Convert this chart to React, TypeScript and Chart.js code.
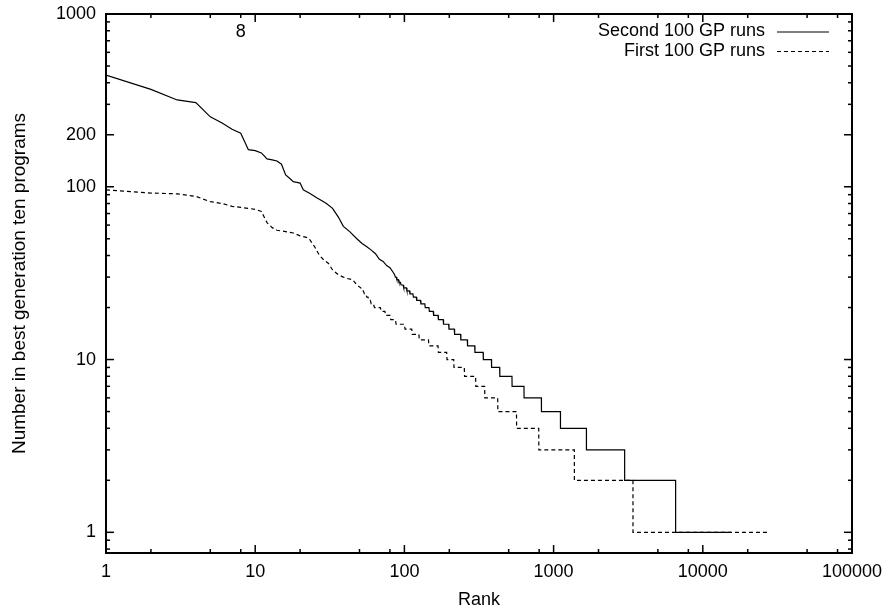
import React, { useEffect, useRef } from 'react';
import { Chart, registerables } from 'chart.js';

Chart.register(...registerables);

// ---- Data ----
// "Second 100 GP runs": individual ranks at the head of the curve
const secondHeadRanks = [1, 2, 3, 4, 5, 6, 7, 8, 9, 10, 11, 12, 13, 14, 15, 16, 17, 18, 19, 20, 21, 22, 23, 24, 26, 28, 30, 33, 36, 39, 43, 48, 52, 56, 60, 64, 68, 72, 76, 80, 84, 86];
const secondHeadCounts = [443, 366, 318, 307, 254, 234, 215, 204, 164, 162, 157, 145, 143, 141, 135, 117, 112, 107, 106, 105, 96, 94, 92, 90, 86, 83, 80, 75, 67, 59, 55, 50, 47, 45, 43, 41, 38, 37, 35, 34, 32, 31];
// then integer steps: level and the last rank holding that level
const secondStepLevels = [30, 29, 28, 27, 26, 25, 24, 23, 22, 21, 20, 19, 18, 17, 16, 15, 14, 13, 12, 11, 10, 9, 8, 7, 6, 5, 4, 3, 2, 1];
const secondStepLastRanks = [88, 91, 94, 98, 103, 108, 114, 120, 128, 137, 146, 156, 168, 182, 198, 216, 238, 264, 296, 337, 383, 435, 526, 633, 828, 1111, 1659, 2993, 6574, 15520];

// "First 100 GP runs"
const firstHeadRanks = [1, 2, 3, 4, 5, 6, 7, 8, 9, 10, 11, 12, 13, 14, 16, 18, 20, 22, 23, 25, 27, 29, 31, 33, 36, 39, 41, 45, 48, 51];
const firstHeadCounts = [96, 92, 91, 88, 82, 80, 77, 76, 75, 74, 72, 62, 58, 56, 55, 54, 52, 51, 50, 45, 40, 37.5, 36, 33, 31, 30, 29.5, 29, 27, 26];
const firstStepLevels = [25, 24, 23, 22, 21, 20, 19, 18, 17, 16, 15, 14, 13, 12, 11, 10, 9, 8, 7, 6, 5, 4, 3, 2, 1];
const firstStepLastRanks = [53, 55, 57, 59, 62, 69, 74, 80, 87, 100, 112, 125, 145, 168, 192, 214, 252, 300, 345, 422, 564, 795, 1377, 3404, 28000];

const seriesLabels = ['Second 100 GP runs', 'First 100 GP runs'];
const xTickValues = [1, 10, 100, 1000, 10000, 100000];
const yTickValues = [1, 10, 100, 200, 1000];
const xMinorFactors = [2, 5, 8];
const yMinorFactors = [2, 3, 4, 5, 6, 7, 8, 9];
const xTitle = 'Rank';
const yTitle = 'Number in best generation ten programs';
const plotLabel = '8';
const plotLabelX = 8;
const plotLabelY = 790;

function buildPoints(headRanks: number[], headCounts: number[], levels: number[], lastRanks: number[]) {
  const pts: { x: number; y: number }[] = headRanks.map((r, i) => ({ x: r, y: headCounts[i] }));
  let prev = headRanks[headRanks.length - 1];
  levels.forEach((lv, i) => {
    const start = prev + 1;
    const end = lastRanks[i];
    pts.push({ x: start, y: lv });
    if (end > start) pts.push({ x: end, y: lv });
    prev = end;
  });
  return pts;
}

const FONT = 'Liberation Sans, Arial, sans-serif';

const framePlugin = {
  id: 'gnuframe',
  afterDatasetsDraw(chart: any) {
    const { ctx, chartArea } = chart;
    const { left, right, top, bottom } = chartArea;
    const xs = chart.scales.x;
    const ys = chart.scales.y;
    const seg = (x1: number, y1: number, x2: number, y2: number) => {
      ctx.beginPath();
      ctx.moveTo(x1, y1);
      ctx.lineTo(x2, y2);
      ctx.stroke();
    };
    ctx.save();
    ctx.strokeStyle = '#000';
    ctx.setLineDash([]);
    ctx.lineWidth = 1.5;
    const xTick = (v: number, len: number) => {
      const p = xs.getPixelForValue(v);
      if (p < left - 0.5 || p > right + 0.5) return;
      seg(p, bottom, p, bottom - len);
      seg(p, top, p, top + len);
    };
    const yTick = (v: number, len: number) => {
      const p = ys.getPixelForValue(v);
      if (p < top - 0.5 || p > bottom + 0.5) return;
      seg(left, p, left + len, p);
      seg(right, p, right - len, p);
    };
    for (let d = 0; d <= 4; d++) {
      xMinorFactors.forEach((f) => xTick(f * Math.pow(10, d), 4));
    }
    xTickValues.forEach((v) => xTick(v, 8));
    for (let d = -1; d <= 2; d++) {
      yMinorFactors.forEach((f) => {
        const v = f * Math.pow(10, d);
        if (v >= ys.min && v <= ys.max && !yTickValues.includes(v)) yTick(v, 4);
      });
    }
    yTickValues.forEach((v) => yTick(v, 8));

    ctx.lineWidth = 2;
    ctx.strokeRect(left, top, right - left, bottom - top);

    // plot label
    ctx.fillStyle = '#000';
    ctx.font = `18px ${FONT}`;
    ctx.textAlign = 'center';
    ctx.textBaseline = 'middle';
    ctx.fillText(plotLabel, xs.getPixelForValue(plotLabelX), ys.getPixelForValue(plotLabelY));

    // legend
    ctx.textAlign = 'right';
    const rows = [31.5, 51];
    chart.data.datasets.forEach((ds: any, i: number) => {
      const yy = rows[i];
      ctx.fillText(ds.label, 765, yy);
      ctx.lineWidth = 1.2;
      ctx.setLineDash(ds.borderDash || []);
      seg(777, yy + 0.5, 829, yy + 0.5);
      ctx.setLineDash([]);
    });
    ctx.restore();
  },
};

export default function App() {
  const ref = useRef<HTMLCanvasElement | null>(null);
  useEffect(() => {
    if (!ref.current) return;
    const tickFont = { family: FONT, size: 18 };
    const chart = new Chart(ref.current, {
      type: 'line',
      data: {
        datasets: [
          {
            label: seriesLabels[0],
            data: buildPoints(secondHeadRanks, secondHeadCounts, secondStepLevels, secondStepLastRanks),
            borderColor: '#000',
            borderWidth: 1.2,
            pointRadius: 0,
            tension: 0,
            fill: false,
          },
          {
            label: seriesLabels[1],
            data: buildPoints(firstHeadRanks, firstHeadCounts, firstStepLevels, firstStepLastRanks),
            borderColor: '#000',
            borderWidth: 1.2,
            borderDash: [4, 3],
            pointRadius: 0,
            tension: 0,
            fill: false,
          },
        ],
      },
      options: {
        animation: false,
        responsive: true,
        maintainAspectRatio: false,
        parsing: false as any,
        layout: { padding: { left: 0, top: 14, right: 36, bottom: 0 } },
        plugins: { legend: { display: false }, tooltip: { enabled: false } },
        scales: {
          x: {
            type: 'logarithmic',
            position: 'bottom',
            min: 1,
            max: 100000,
            grid: { display: false, drawTicks: false },
            border: { display: false },
            afterBuildTicks: (s: any) => {
              s.ticks = xTickValues.map((v) => ({ value: v }));
            },
            afterFit: (s: any) => {
              s.height = 58;
              s.paddingLeft = 0;
              s.paddingRight = 0;
              s.paddingTop = 0;
              s.paddingBottom = 0;
            },
            ticks: {
              autoSkip: false,
              maxRotation: 0,
              minRotation: 0,
              padding: 8,
              color: '#000',
              font: tickFont,
              callback: (v: any) => String(v),
            },
            title: { display: true, text: xTitle, color: '#000', font: tickFont, padding: { top: 0, bottom: 0 } },
          },
          y: {
            type: 'logarithmic',
            position: 'left',
            min: 0.759,
            max: 1000,
            grid: { display: false, drawTicks: false },
            border: { display: false },
            afterBuildTicks: (s: any) => {
              s.ticks = yTickValues.map((v) => ({ value: v }));
            },
            afterFit: (s: any) => {
              s.width = 106;
              s.paddingLeft = 0;
              s.paddingRight = 0;
              s.paddingTop = 0;
              s.paddingBottom = 0;
            },
            ticks: {
              autoSkip: false,
              padding: 10,
              color: '#000',
              font: tickFont,
              callback: (v: any) => String(v),
            },
            title: { display: true, text: yTitle, color: '#000', font: { family: FONT, size: 19 }, padding: { top: 8, bottom: 0 } },
          },
        },
      } as any,
      plugins: [framePlugin],
    });
    return () => chart.destroy();
  }, []);
  return (
    <div style={{ position: 'absolute', left: 0, top: 0, width: 888, height: 611, background: '#fff' }}>
      <canvas ref={ref} />
    </div>
  );
}
